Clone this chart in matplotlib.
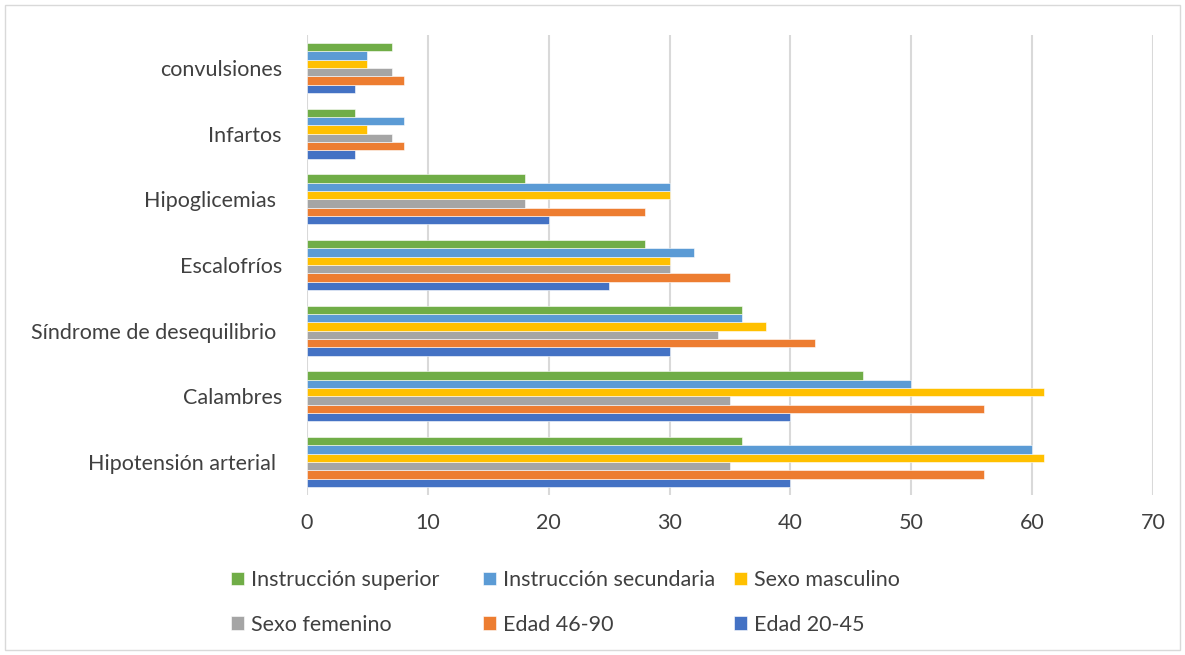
import matplotlib
matplotlib.use("Agg")
import matplotlib.pyplot as plt
import numpy as np
from matplotlib.patches import Rectangle

categories = ["Hipotensión arterial ", "Calambres", "Síndrome de desequilibrio ",
              "Escalofríos", "Hipoglicemias ", "Infartos", "convulsiones"]

edad_20_45 = [40, 40, 30, 25, 20, 4, 4]
edad_46_90 = [56, 56, 42, 35, 28, 8, 8]
sexo_femenino = [35, 35, 34, 30, 18, 7, 7]
sexo_masculino = [61, 61, 38, 30, 30, 5, 5]
instruccion_secundaria = [60, 50, 36, 32, 30, 8, 5]
instruccion_superior = [36, 46, 36, 28, 18, 4, 7]

series = [
    ("Edad 20-45", edad_20_45, "#4472C4"),
    ("Edad 46-90", edad_46_90, "#ED7D31"),
    ("Sexo femenino", sexo_femenino, "#A5A5A5"),
    ("Sexo masculino", sexo_masculino, "#FFC000"),
    ("Instrucción secundaria", instruccion_secundaria, "#5B9BD5"),
    ("Instrucción superior", instruccion_superior, "#70AD47"),
]

plt.rcParams["font.family"] = ["Lato", "DejaVu Sans"]
FS = 15.5
W, H = 1185, 655

fig = plt.figure(figsize=(W / 100, H / 100), dpi=100)
ax = fig.add_axes([307 / W, 1 - 495 / H, (1153 - 307) / W, 460 / H])

n = len(series)
group = 0.76
h = group / n
y = np.arange(len(categories))
handles = {}
for i, (name, vals, col) in enumerate(series):
    off = -group / 2 + h * (i + 0.5)
    b = ax.barh(y + off, vals, height=h, color=col, edgecolor="white",
                linewidth=0.4, label=name, zorder=3)
    handles[name] = b

ax.set_xlim(0, 70)
ax.set_ylim(-0.5, len(categories) - 0.5)
ax.set_xticks(np.arange(0, 71, 10))
ax.set_yticks(y)
ax.set_yticklabels(categories)
ax.tick_params(axis="both", length=0, labelsize=FS, colors="#404040")
ax.tick_params(axis="y", pad=18)
ax.tick_params(axis="x", pad=13)
ax.grid(axis="x", color="#D9D9D9", linewidth=1.5, zorder=0)
for s in ax.spines.values():
    s.set_visible(False)

# legend laid out as three equal-width columns, two rows
columns = [
    (231, ["Instrucción superior", "Sexo femenino"]),
    (483, ["Instrucción secundaria", "Edad 46-90"]),
    (734, ["Sexo masculino", "Edad 20-45"]),
]
for xpix, names in columns:
    leg = fig.legend([handles[k] for k in names], names, ncol=1,
                     loc="center left", bbox_to_anchor=(xpix / W, 1 - 602.5 / H),
                     frameon=False, fontsize=FS, handlelength=0.6,
                     handleheight=0.6, handletextpad=0.33, borderpad=0,
                     borderaxespad=0, labelspacing=1.15)
    for t in leg.get_texts():
        t.set_color("#404040")

fig.add_artist(Rectangle((5 / W, 5 / H), 1 - 10 / W, 1 - 10 / H,
                         transform=fig.transFigure, fill=False,
                         edgecolor="#D9D9D9", linewidth=1))

fig.savefig("out.png", dpi=100)
